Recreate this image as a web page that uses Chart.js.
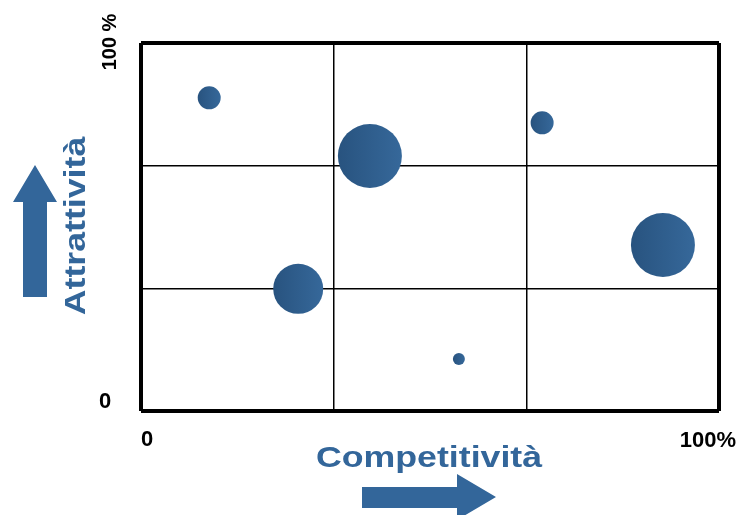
<!DOCTYPE html>
<html>
<head>
<meta charset="utf-8">
<script src="https://cdn.jsdelivr.net/npm/chart.js@4"></script>
<style>
  html, body { margin: 0; padding: 0; background: #fff; overflow: hidden; }
  canvas { display: block; }
</style>
</head>
<body>
<canvas id="canvas" width="739" height="515"></canvas>
<script>
// competitività (x) / attrattività (y) in percent, bubble radius in px
const competitivita = [11.8, 39.6, 69.4, 90.3, 27.2, 55.0];
const attrattivita = [85.1, 69.3, 78.3, 45.1, 33.2, 14.1];
const dimensione = [11.5, 32, 11.5, 32, 25, 6];
const gridTicks = [0, 100 / 3, 200 / 3, 100];

const blue = "#33669a";

const points = competitivita.map((x, i) => ({ x: x, y: attrattivita[i], r: dimensione[i] }));

function bubbleFill(context) {
    const chart = context.chart;
    const p = context.raw;
    if (!p || !chart.chartArea) return "#2d5a88";
    const cx = chart.scales.x.getPixelForValue(p.x);
    const g = chart.ctx.createLinearGradient(cx - p.r, 0, cx + p.r, 0);
    g.addColorStop(0, "#28537f");
    g.addColorStop(1, "#36689a");
    return g;
}

function fixedTicks(scale) {
    scale.ticks = gridTicks.map(v => ({ value: v }));
}

function gridWidth(ctx) {
    return (ctx.index === 0 || ctx.index === gridTicks.length - 1) ? 4 : 1.5;
}

// text stretched a little wider than the font draws it
function wideText(ctx, text, x, y, angle) {
    ctx.save();
    ctx.translate(x, y);
    ctx.rotate(angle);
    ctx.scale(1.19, 1);
    ctx.fillText(text, 0, 0);
    ctx.restore();
}

const labelsPlugin = {
    id: "labels",
    afterDraw(chart) {
        const ctx = chart.ctx;
        ctx.save();
        ctx.textAlign = "center";
        ctx.textBaseline = "middle";

        // corner labels
        ctx.fillStyle = "#000";
        ctx.font = "bold 22px 'Liberation Sans', Arial, sans-serif";
        ctx.fillText("0", 147, 440);
        ctx.fillText("100%", 708, 441);
        ctx.fillText("0", 105, 402);
        ctx.save();
        ctx.translate(110, 42);
        ctx.rotate(-Math.PI / 2);
        ctx.font = "bold 20px 'Liberation Sans', Arial, sans-serif";
        ctx.fillText("100 %", 0, 0);
        ctx.restore();

        // axis titles
        ctx.fillStyle = blue;
        ctx.font = "bold 30px 'Liberation Sans', Arial, sans-serif";
        wideText(ctx, "Competitività", 429, 459, 0);
        wideText(ctx, "Attrattività", 77, 226, -Math.PI / 2);

        // arrows
        ctx.beginPath();
        ctx.moveTo(362, 487);
        ctx.lineTo(457, 487);
        ctx.lineTo(457, 474);
        ctx.lineTo(496, 497);
        ctx.lineTo(457, 520);
        ctx.lineTo(457, 508);
        ctx.lineTo(362, 508);
        ctx.closePath();
        ctx.fill();

        ctx.beginPath();
        ctx.moveTo(23, 297);
        ctx.lineTo(23, 202);
        ctx.lineTo(13, 202);
        ctx.lineTo(35, 165);
        ctx.lineTo(57, 202);
        ctx.lineTo(47, 202);
        ctx.lineTo(47, 297);
        ctx.closePath();
        ctx.fill();

        ctx.restore();
    }
};

new Chart(document.getElementById("canvas"), {
    type: "bubble",
    data: {
        datasets: [{
            data: points,
            backgroundColor: bubbleFill,
            borderWidth: 0,
            hoverBorderWidth: 0
        }]
    },
    options: {
        responsive: false,
        animation: false,
        layout: {
            autoPadding: false,
            padding: { left: 141, right: 20, top: 43, bottom: 104 }
        },
        scales: {
            x: {
                min: 0, max: 100,
                afterBuildTicks: fixedTicks,
                ticks: { display: false },
                border: { display: false },
                grid: { color: "#000", lineWidth: gridWidth, drawTicks: false }
            },
            y: {
                min: 0, max: 100,
                afterBuildTicks: fixedTicks,
                ticks: { display: false },
                border: { display: false },
                grid: { color: "#000", lineWidth: gridWidth, drawTicks: false }
            }
        },
        plugins: {
            legend: { display: false },
            tooltip: { enabled: false }
        }
    },
    plugins: [labelsPlugin]
});
</script>
</body>
</html>
